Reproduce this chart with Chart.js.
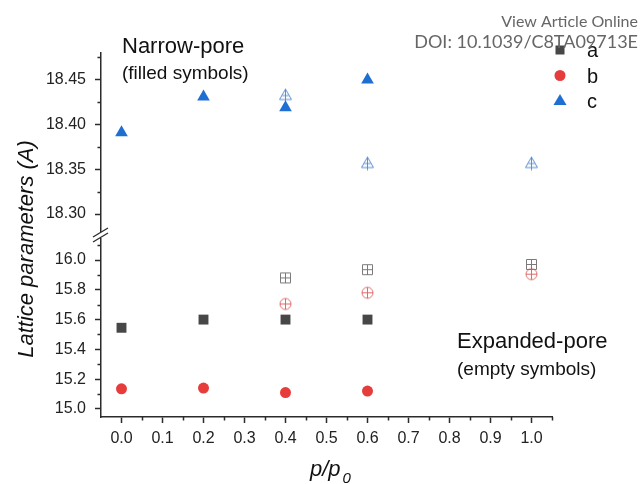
<!DOCTYPE html>
<html>
<head>
<meta charset="utf-8">
<script src="https://cdn.jsdelivr.net/npm/chart.js@4.4.1/dist/chart.umd.min.js"></script>
<style>
html, body { margin: 0; padding: 0; background: #fff; }
#wrap { position: relative; width: 641px; height: 484px; }
</style>
</head>
<body>
<div id="wrap"><canvas id="chart"></canvas></div>
<script>
// relative pressure p/p0 for each group of points
const pNarrow = [0.0, 0.2, 0.4, 0.6];
const pExpanded = [0.4, 0.6, 1.0];

// lattice parameters (A), narrow-pore = filled, expanded-pore = empty
const aNarrow = [15.545, 15.60, 15.60, 15.60];
const bNarrow = [15.135, 15.14, 15.11, 15.12];
const cNarrow = [18.391, 18.431, 18.419, 18.45];
const aExpanded = [15.88, 15.935, 15.97];
const bExpanded = [15.705, 15.78, 15.905];
const cExpanded = [18.433, 18.357, 18.357];

const legendLabels = ['a', 'b', 'c'];

const xTicks = [0.0, 0.1, 0.2, 0.3, 0.4, 0.5, 0.6, 0.7, 0.8, 0.9, 1.0];
const xMinor = [0.05, 0.15, 0.25, 0.35, 0.45, 0.55, 0.65, 0.75, 0.85, 0.95, 1.05];
const yTopTicks = [18.30, 18.35, 18.40, 18.45];
const yTopMinor = [18.325, 18.375, 18.425, 18.475];
const yBotTicks = [15.0, 15.2, 15.4, 15.6, 15.8, 16.0];
const yBotMinor = [15.1, 15.3, 15.5, 15.7, 15.9, 16.1];

const axisColor = '#2b2b2b';
const colA = '#474747', colB = '#e63c3c', colC = '#1f6fd3';

Chart.defaults.font.family = '"Liberation Sans", Arial, sans-serif';
Chart.defaults.font.size = 16;
Chart.defaults.color = '#222';

// open symbols with a cross inside, used for expanded-pore points
function makeSymbol(kind, color) {
    const c = document.createElement('canvas');
    c.width = 15; c.height = 15;
    const g = c.getContext('2d');
    g.strokeStyle = color;
    g.lineWidth = 1;
    g.beginPath();
    if (kind === 'square') {
        g.rect(2.5, 2.5, 10, 10);
        g.moveTo(7.5, 2.5); g.lineTo(7.5, 12.5);
        g.moveTo(2.5, 7.5); g.lineTo(12.5, 7.5);
    } else if (kind === 'circle') {
        g.arc(7.5, 7.5, 5.5, 0, Math.PI * 2);
        g.moveTo(7.5, 2); g.lineTo(7.5, 13);
        g.moveTo(2, 7.5); g.lineTo(13, 7.5);
    } else {
        g.moveTo(7.5, 1.5); g.lineTo(13.5, 12); g.lineTo(1.5, 12); g.closePath();
        g.moveTo(7.5, 1.5); g.lineTo(7.5, 14.5);
        g.moveTo(4.3, 8); g.lineTo(10.7, 8);
    }
    g.stroke();
    return c;
}

function pts(xs, ys) {
    return xs.map((x, i) => ({x: x, y: ys[i]}));
}

function setTicks(values) {
    return function (scale) {
        scale.ticks = values.map(v => ({value: v}));
    };
}

function setWidth(scale) { scale.width = 101; }

const yAxisBase = {
    type: 'linear',
    position: 'left',
    stack: 'y',
    border: {color: axisColor, width: 1.5},
    grid: {drawOnChartArea: false, tickLength: 6, tickColor: axisColor, tickWidth: 1.5},
    afterFit: setWidth
};

const decor = {
    id: 'decor',
    afterDraw(chart) {
        const {ctx, chartArea, scales} = chart;
        const L = chartArea.left, B = chartArea.bottom;
        ctx.save();
        ctx.strokeStyle = axisColor;
        ctx.lineWidth = 1.5;
        ctx.beginPath();
        xMinor.forEach(v => {
            const px = Math.round(scales.x.getPixelForValue(v)) + 0.5;
            ctx.moveTo(px, B); ctx.lineTo(px, B + 3.5);
        });
        yTopMinor.forEach(v => {
            const py = Math.round(scales.yTop.getPixelForValue(v)) + 0.5;
            ctx.moveTo(L - 3.5, py); ctx.lineTo(L, py);
        });
        yBotMinor.forEach(v => {
            const py = Math.round(scales.yBot.getPixelForValue(v)) + 0.5;
            ctx.moveTo(L - 3.5, py); ctx.lineTo(L, py);
        });
        ctx.stroke();

        // axis break marks
        const gm = (scales.yGap.top + scales.yGap.bottom) / 2;
        ctx.lineWidth = 1.3;
        ctx.beginPath();
        ctx.moveTo(L - 8, gm + 2); ctx.lineTo(L + 7, gm - 7);
        ctx.moveTo(L - 8, gm + 7); ctx.lineTo(L + 7, gm - 2);
        ctx.stroke();

        // legend
        const lx = chartArea.right + 8;
        legendLabels.forEach((lab, i) => {
            const ly = chartArea.top - 3 + i * 25.5;
            ctx.fillStyle = chart.data.datasets[i].backgroundColor;
            ctx.beginPath();
            if (i === 0) {
                ctx.rect(lx - 4.5, ly - 4.5, 9, 9);
            } else if (i === 1) {
                ctx.arc(lx, ly, 5.5, 0, Math.PI * 2);
            } else {
                ctx.moveTo(lx, ly - 7); ctx.lineTo(lx + 6.5, ly + 4); ctx.lineTo(lx - 6.5, ly + 4); ctx.closePath();
            }
            ctx.fill();
            ctx.fillStyle = '#111';
            ctx.font = '20px "Liberation Sans", Arial, sans-serif';
            ctx.textAlign = 'left';
            ctx.textBaseline = 'alphabetic';
            ctx.fillText(lab, lx + 27, ly + 7);
        });

        // annotations
        ctx.fillStyle = '#111';
        ctx.font = '22px "Liberation Sans", Arial, sans-serif';
        ctx.fillText('Narrow-pore', 122, 53);
        ctx.fillText('Expanded-pore', 457, 348);
        ctx.font = '19px "Liberation Sans", Arial, sans-serif';
        ctx.fillText('(filled symbols)', 122, 79);
        ctx.fillText('(empty symbols)', 457, 375);

        // axis titles
        ctx.font = 'italic 22px "Liberation Sans", Arial, sans-serif';
        ctx.fillText('p/p', 310, 476);
        const w = ctx.measureText('p/p').width;
        ctx.font = 'italic 15px "Liberation Sans", Arial, sans-serif';
        ctx.fillText('0', 310 + w + 2, 483);
        ctx.save();
        ctx.translate(33, 249);
        ctx.rotate(-Math.PI / 2);
        ctx.textAlign = 'center';
        ctx.font = 'italic 22px "Liberation Sans", Arial, sans-serif';
        ctx.fillText('Lattice parameters (A)', 0, 0);
        ctx.restore();

        // publisher header
        ctx.fillStyle = '#666';
        ctx.textAlign = 'right';
        ctx.font = '16px Lato, sans-serif';
        ctx.fillText('View Article Online', 638, 27);
        ctx.font = '18px Lato, sans-serif';
        ctx.fillText('DOI: 10.1039/C8TA09713E', 638, 48);
        ctx.restore();
    }
};

new Chart(document.getElementById('chart'), {
    type: 'scatter',
    data: {
        datasets: [
            {label: 'a', data: pts(pNarrow, aNarrow), yAxisID: 'yBot', pointStyle: 'rect',
             pointRadius: 7, backgroundColor: colA, borderWidth: 0},
            {label: 'b', data: pts(pNarrow, bNarrow), yAxisID: 'yBot', pointStyle: 'circle',
             pointRadius: 5.5, backgroundColor: colB, borderWidth: 0},
            {label: 'c', data: pts(pNarrow, cNarrow), yAxisID: 'yTop', pointStyle: 'triangle',
             pointRadius: 7.3, backgroundColor: colC, borderWidth: 0},
            {label: 'a expanded', data: pts(pExpanded, aExpanded), yAxisID: 'yBot',
             pointStyle: makeSymbol('square', '#7a7a7a')},
            {label: 'b expanded', data: pts(pExpanded, bExpanded), yAxisID: 'yBot',
             pointStyle: makeSymbol('circle', '#e06a6a')},
            {label: 'c expanded', data: pts(pExpanded, cExpanded), yAxisID: 'yTop',
             pointStyle: makeSymbol('triangle', '#5b8fd2')}
        ]
    },
    options: {
        responsive: true,
        maintainAspectRatio: false,
        animation: false,
        layout: {padding: {top: 53, right: 89, left: 0, bottom: 0}},
        plugins: {legend: {display: false}, tooltip: {enabled: false}},
        scales: {
            x: {
                type: 'linear',
                min: -0.05,
                max: 1.05,
                border: {color: axisColor, width: 1.5},
                grid: {drawOnChartArea: false, tickLength: 6, tickColor: axisColor, tickWidth: 1.5},
                ticks: {padding: 6, autoSkip: false, maxRotation: 0, callback: v => Number(v).toFixed(1)},
                afterBuildTicks: setTicks(xTicks),
                afterFit: scale => { scale.height = 67; }
            },
            yBot: Object.assign({}, yAxisBase, {
                min: 14.946, max: 16.141, stackWeight: 178,
                ticks: {padding: 9, autoSkip: false, callback: v => Number(v).toFixed(1)},
                afterBuildTicks: setTicks(yBotTicks)
            }),
            yGap: {
                type: 'linear', position: 'left', stack: 'y', stackWeight: 8,
                min: 0, max: 1,
                border: {display: false},
                grid: {display: false},
                ticks: {display: false},
                afterFit: setWidth
            },
            yTop: Object.assign({}, yAxisBase, {
                min: 18.281, max: 18.48, stackWeight: 178,
                ticks: {padding: 9, autoSkip: false, callback: v => Number(v).toFixed(2)},
                afterBuildTicks: setTicks(yTopTicks)
            })
        }
    },
    plugins: [decor]
});
</script>
</body>
</html>
